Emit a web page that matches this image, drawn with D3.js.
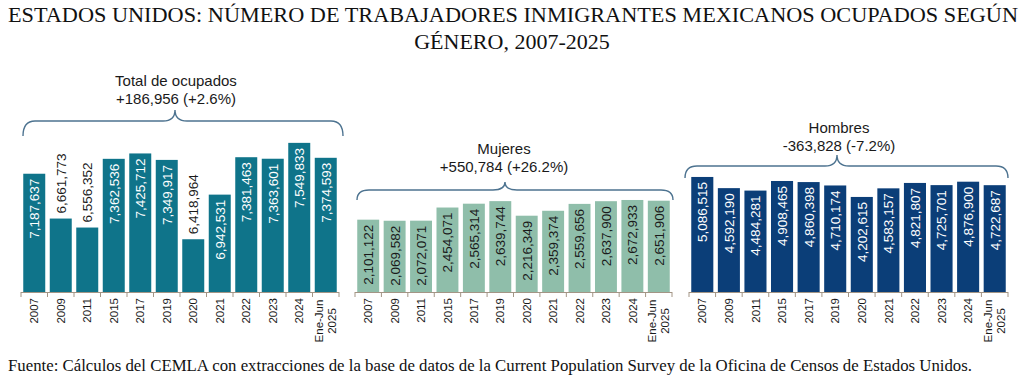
<!DOCTYPE html>
<html>
<head>
<meta charset="utf-8">
<script src="https://cdn.jsdelivr.net/npm/d3@7"></script>
<style>
  html, body { margin: 0; padding: 0; background: #fff; }
  svg { display: block; }
</style>
</head>
<body>
<script>
const categories = ["2007", "2009", "2011", "2015", "2017", "2019", "2020", "2021", "2022", "2023", "2024", "Ene-Jun 2025"];
const total = [7187637, 6661773, 6556352, 7362536, 7425712, 7349917, 6418964, 6942531, 7381463, 7363601, 7549833, 7374593];
const mujeres = [2101122, 2069582, 2072071, 2454071, 2565314, 2639744, 2216349, 2359374, 2559656, 2637900, 2672933, 2651906];
const hombres = [5086515, 4592190, 4484281, 4908465, 4860398, 4710174, 4202615, 4583157, 4821807, 4725701, 4876900, 4722687];
const panelTitles = ["Total de ocupados", "Mujeres", "Hombres"];
const panelChanges = ["+186,956 (+2.6%)", "+550,784 (+26.2%)", "-363,828 (-7.2%)"];

const W = 1024, H = 380;
const svg = d3.select("body").append("svg").attr("width", W).attr("height", H);
svg.append("rect").attr("width", W).attr("height", H).attr("fill", "#fff");

// title
const serif = "'Liberation Serif', 'DejaVu Serif', serif";
svg.append("text")
  .attr("x", 8).attr("y", 22)
  .attr("font-family", serif).attr("font-size", 22).attr("fill", "#111")
  .attr("textLength", 1010).attr("lengthAdjust", "spacingAndGlyphs")
  .text("ESTADOS UNIDOS: NÚMERO DE TRABAJADORES INMIGRANTES MEXICANOS OCUPADOS SEGÚN");
svg.append("text")
  .attr("x", W / 2).attr("y", 49).attr("text-anchor", "middle")
  .attr("font-family", serif).attr("font-size", 22).attr("fill", "#111")
  .text("GÉNERO, 2007-2025");

svg.append("text")
  .attr("x", 8).attr("y", 371)
  .attr("font-family", serif).attr("font-size", 16).attr("fill", "#111")
  .attr("textLength", 964).attr("lengthAdjust", "spacingAndGlyphs")
  .text("Fuente: Cálculos del CEMLA con extracciones de la base de datos de la Current Population Survey de la Oficina de Censos de Estados Unidos.");

const baseY = 292;
const panels = [
  { values: total, color: "#0f748a", x0: 21, x1: 339, domain: [5800000, 8000000], top: 104.5, insideMin: 80,
    brace: { x0: 23, x1: 343, cx: 175, yEnd: 136, yLine: 121, yPeak: 110 }, tx: 176, ty: 86 },
  { values: mujeres, color: "#8fbeaa", x0: 355, x1: 672, domain: [0, 4000000], top: 154.3, insideMin: 0,
    brace: { x0: 357, x1: 673, cx: 505, yEnd: 200, yLine: 190, yPeak: 182 }, tx: 504, ty: 154 },
  { values: hombres, color: "#0b3e78", x0: 689, x1: 1008, domain: [0, 6000000], top: 156.3, insideMin: 0,
    brace: { x0: 685, x1: 1008, cx: 837, yEnd: 178, yLine: 166, yPeak: 155 }, tx: 839, ty: 133 }
];

const fmt = d3.format(",");
const sans = "'Liberation Sans', Arial, sans-serif";

function bracePath(b) {
  const r = 12;
  return `M${b.x0},${b.yEnd} Q${b.x0},${b.yLine} ${b.x0 + r},${b.yLine} L${b.cx - r},${b.yLine} ` +
    `Q${b.cx},${b.yLine} ${b.cx},${b.yPeak} Q${b.cx},${b.yLine} ${b.cx + r},${b.yLine} ` +
    `L${b.x1 - r},${b.yLine} Q${b.x1},${b.yLine} ${b.x1},${b.yEnd}`;
}

panels.forEach((p, pi) => {
  const x = d3.scaleBand().domain(categories).range([p.x0, p.x1]).paddingInner(0.17).paddingOuter(0.085);
  const y = d3.scaleLinear().domain(p.domain).range([baseY, p.top]);
  const g = svg.append("g");
  const rows = categories.map((c, i) => ({ cat: c, v: p.values[i] }));
  const inside = d => baseY - y(d.v) >= p.insideMin;

  g.selectAll("rect.bar").data(rows).enter().append("rect")
    .attr("class", "bar")
    .attr("x", d => x(d.cat))
    .attr("width", x.bandwidth())
    .attr("y", d => y(d.v))
    .attr("height", d => baseY - y(d.v))
    .attr("fill", p.color);

  // value labels
  g.selectAll("text.val").data(rows).enter().append("text")
    .attr("class", "val")
    .attr("transform", d => {
      const ty = inside(d) ? y(d.v) + 5 : y(d.v) - 5;
      return `translate(${x(d.cat) + x.bandwidth() / 2},${ty}) rotate(-90)`;
    })
    .attr("text-anchor", d => inside(d) ? "end" : "start")
    .attr("dy", "0.36em")
    .attr("font-family", sans)
    .attr("font-size", 13.5)
    .attr("fill", d => inside(d) && pi !== 1 ? "#fff" : "#1a1a1a")
    .text(d => fmt(d.v));

  // axis line and ticks
  const step = x.step();
  const first = x(categories[0]) + x.bandwidth() / 2 - step / 2;
  g.append("line")
    .attr("x1", p.x0).attr("x2", p.x1)
    .attr("y1", baseY + 0.5).attr("y2", baseY + 0.5)
    .attr("stroke", "#a39585").attr("stroke-width", 1);
  g.selectAll("line.tick").data(d3.range(categories.length + 1)).enter().append("line")
    .attr("class", "tick")
    .attr("x1", i => first + i * step).attr("x2", i => first + i * step)
    .attr("y1", baseY).attr("y2", baseY + 5)
    .attr("stroke", "#a39585").attr("stroke-width", 1);

  // category labels
  rows.forEach(d => {
    const cx = x(d.cat) + x.bandwidth() / 2;
    const parts = d.cat.split(" ");
    if (parts.length === 1) {
      g.append("text")
        .attr("transform", `translate(${cx},298) rotate(-90)`)
        .attr("text-anchor", "end").attr("dy", "0.36em")
        .attr("font-family", sans)
        .attr("font-size", 11.5).attr("fill", "#1a1a1a")
        .text(d.cat);
    } else {
      parts.forEach((t, k) => {
        g.append("text")
          .attr("transform", `translate(${cx - 6.5 + k * 13},321) rotate(-90)`)
          .attr("text-anchor", "middle").attr("dy", "0.36em")
          .attr("font-family", sans)
          .attr("font-size", 11.5).attr("fill", "#1a1a1a")
          .text(t);
      });
    }
  });

  // brace + annotation
  g.append("path")
    .attr("d", bracePath(p.brace))
    .attr("fill", "none").attr("stroke", "#4d7390").attr("stroke-width", 1.4);
  const ann = g.append("text")
    .attr("text-anchor", "middle")
    .attr("font-family", sans)
    .attr("font-size", 15).attr("fill", "#1a1a1a");
  ann.append("tspan").attr("x", p.tx).attr("y", p.ty).text(panelTitles[pi]);
  ann.append("tspan").attr("x", p.tx).attr("y", p.ty + 18).text(panelChanges[pi]);
});
</script>
</body>
</html>
